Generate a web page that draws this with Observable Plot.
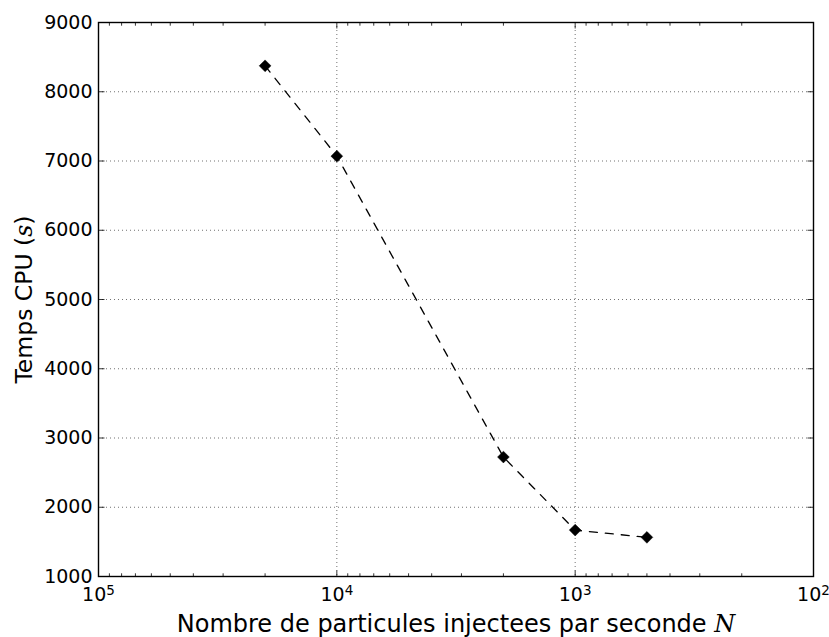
<!DOCTYPE html>
<html>
<head>
<meta charset="utf-8">
<script src="https://cdn.jsdelivr.net/npm/d3@7"></script>
<script src="https://cdn.jsdelivr.net/npm/@observablehq/plot@0.6"></script>
<style>
  html, body { margin: 0; padding: 0; background: #fff; }
  svg { font-family: "DejaVu Sans", sans-serif; }
</style>
</head>
<body>
<div id="chart"></div>
<script>
// ---- data ----
const particles = [20000, 10000, 2000, 1000, 500];
const cpuTime   = [8375, 7070, 2725, 1670, 1565];
const yTicks = [1000, 2000, 3000, 4000, 5000, 6000, 7000, 8000, 9000];
const xMajorTicks = [1e5, 1e4, 1e3, 1e2];
const xMinorTicks = [];
for (const p of [2, 3, 4]) for (let m = 2; m <= 9; m++) xMinorTicks.push(m * Math.pow(10, p));
const xLabel = "Nombre de particules injectees par seconde ";
const xLabelVar = "N";
const yLabel = "Temps CPU ";
const yLabelVar = "s";

const data = particles.map((n, i) => ({n, t: cpuTime[i]}));

const tickShape = {draw(ctx, l) { ctx.moveTo(0, 0); ctx.lineTo(0, -l); }};
const tickStyle = {shape: tickShape, anchor: "start", stroke: "#000", strokeWidth: 0.8};

const chart = Plot.plot({
  width: 829,
  height: 637,
  marginLeft: 98,
  marginRight: 16,
  marginTop: 22,
  marginBottom: 61,
  style: {fontFamily: "DejaVu Sans, sans-serif", background: "#fff"},
  x: {type: "log", domain: [1e5, 1e2]},
  y: {domain: [1000, 9000]},
  marks: [
    Plot.gridX(xMajorTicks, {stroke: "#000", strokeOpacity: 0.8, strokeWidth: 0.7, strokeDasharray: "1,3"}),
    Plot.gridY(yTicks, {stroke: "#000", strokeOpacity: 0.8, strokeWidth: 0.7, strokeDasharray: "1,3"}),
    // inward ticks
    Plot.vector(xMajorTicks, {...tickStyle, x: d => d, frameAnchor: "bottom", length: 5.6, rotate: 0}),
    Plot.vector(xMajorTicks, {...tickStyle, x: d => d, frameAnchor: "top", length: 5.6, rotate: 180}),
    Plot.vector(xMinorTicks, {...tickStyle, x: d => d, frameAnchor: "bottom", length: 2.8, rotate: 0}),
    Plot.vector(xMinorTicks, {...tickStyle, x: d => d, frameAnchor: "top", length: 2.8, rotate: 180}),
    Plot.vector(yTicks, {...tickStyle, y: d => d, frameAnchor: "left", length: 5.6, rotate: 90}),
    Plot.vector(yTicks, {...tickStyle, y: d => d, frameAnchor: "right", length: 5.6, rotate: -90}),
    Plot.axisY(yTicks, {tickSize: 0, tickPadding: 6, fontSize: 19, label: null, tickFormat: d => String(d)}),
    Plot.axisX(xMajorTicks, {tickSize: 0, tickPadding: 11, fontSize: 19, label: null,
      tickFormat: d => String(Math.round(Math.log10(d)))}),
    Plot.line(data, {x: "n", y: "t", stroke: "#000", strokeWidth: 1.3, strokeDasharray: "8,8"}),
    Plot.dot(data, {x: "n", y: "t", symbol: "diamond2", r: 5.3, fill: "#000", stroke: "#000", strokeWidth: 0.5}),
    Plot.text([xLabel], {frameAnchor: "bottom", dy: 55, lineAnchor: "bottom", textAnchor: "middle", fontSize: 24, text: d => d, className: "xlab"}),
    Plot.text([yLabel], {frameAnchor: "left", dx: -74, rotate: -90, textAnchor: "middle", fontSize: 23.5, text: d => d, className: "ylab"}),
    Plot.frame({stroke: "#000", strokeWidth: 1.4})
  ]
});

// superscript exponents on the log axis tick labels
chart.querySelectorAll('g[aria-label="x-axis tick label"] text').forEach(t => {
  const e = t.textContent;
  t.textContent = "";
  const b = document.createElementNS("http://www.w3.org/2000/svg", "tspan");
  b.textContent = "10";
  const s = document.createElementNS("http://www.w3.org/2000/svg", "tspan");
  s.textContent = e;
  s.setAttribute("font-size", "13.5");
  s.setAttribute("dy", "-6.5");
  t.appendChild(b); t.appendChild(s);
});
// italic math variables in axis labels
function addVar(sel, v) {
  chart.querySelectorAll(sel + " text").forEach(t => {
    const base = t.textContent;
    t.textContent = "";
    const a = document.createElementNS("http://www.w3.org/2000/svg", "tspan");
    a.textContent = base;
    t.appendChild(a);
    if (v === "s") {
      const p1 = document.createElementNS("http://www.w3.org/2000/svg", "tspan");
      p1.textContent = "(";
      const it = document.createElementNS("http://www.w3.org/2000/svg", "tspan");
      it.textContent = "s";
      it.setAttribute("font-style", "italic");
      it.setAttribute("font-family", "DejaVu Serif, serif");
      const p2 = document.createElementNS("http://www.w3.org/2000/svg", "tspan");
      p2.textContent = ")";
      t.appendChild(p1); t.appendChild(it); t.appendChild(p2);
    } else {
      const it = document.createElementNS("http://www.w3.org/2000/svg", "tspan");
      it.textContent = v;
      it.setAttribute("font-style", "italic");
      it.setAttribute("font-family", "DejaVu Serif, serif");
      t.appendChild(it);
    }
  });
}
addVar("g.xlab", xLabelVar);
addVar("g.ylab", yLabelVar);
document.getElementById("chart").appendChild(chart);
</script>
</body>
</html>
